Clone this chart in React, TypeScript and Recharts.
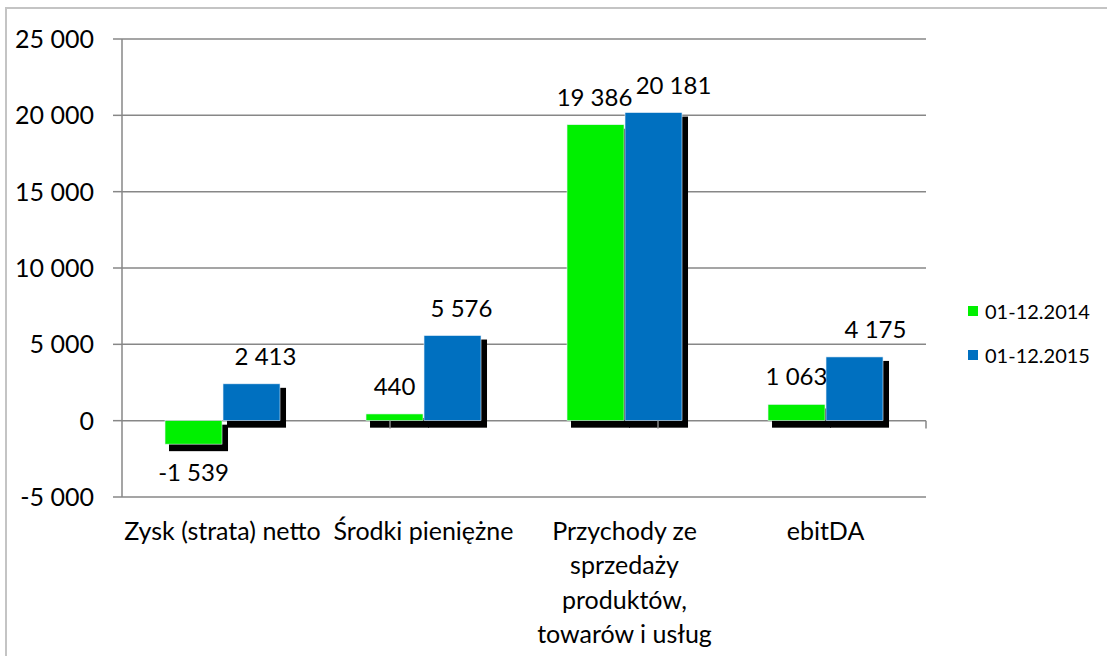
import React from "react";
import {
  BarChart,
  Bar,
  XAxis,
  YAxis,
  CartesianGrid,
  Legend,
  LabelList,
  ReferenceLine,
} from "recharts";

const categories = [
  "Zysk (strata) netto",
  "Środki pieniężne",
  "Przychody ze sprzedaży produktów, towarów i usług",
  "ebitDA",
];
const categoryLines = [
  ["Zysk (strata) netto"],
  ["Środki pieniężne"],
  ["Przychody ze", "sprzedaży", "produktów,", "towarów i usług"],
  ["ebitDA"],
];
const series2014 = [-1539, 440, 19386, 1063];
const series2015 = [2413, 5576, 20181, 4175];
const seriesNames = ["01-12.2014", "01-12.2015"];
const yTicks = [-5000, 0, 5000, 10000, 15000, 20000, 25000];
const categoryBoundaries = [1, 2, 3, 4];

// style-only tweaks for label placement (Excel moved the 2015 labels right)
const labelDx2015 = [14, 9, 20, 21];
const labelDx2014 = [0, 0, -1, 0];

const data = categories.map((c, i) => ({
  name: c,
  v2014: series2014[i],
  v2015: series2015[i],
}));

const FONT = "Lato, 'Open Sans', sans-serif";
const FS = 25;
const LFS = 24;
const GREEN = "#00f000";
const BLUE = "#0070c0";
const GRID = "#878787";

const fmt = (v: number) => {
  const s = Math.abs(Math.round(v)).toString().replace(/\B(?=(\d{3})+(?!\d))/g, " ");
  return (v < 0 ? "-" : "") + s;
};

const ShadowBar = (props: any) => {
  const { x, y, width, height, fill } = props;
  if (width == null || height == null) return null;
  const top = Math.min(y, y + height);
  const h = Math.abs(height);
  return (
    <g>
      <rect x={x + 4} y={top + 4} width={width + 2} height={h + 3} fill="#000" />
      <rect x={x} y={top} width={width} height={h} fill={fill} stroke="#e8f0f8" strokeWidth={0.6} />
    </g>
  );
};

const makeLabel = (dxArr: number[]) => (props: any) => {
  const { x, y, width, height, value, index } = props;
  const neg = value < 0;
  const top = Math.min(y, y + height);
  const bottom = Math.max(y, y + height);
  const cx = x + width / 2 + (dxArr[index] || 0);
  const ty = neg ? bottom + 37 : top - 19;
  return (
    <text x={cx} y={ty} textAnchor="middle" fontFamily={FONT} fontSize={LFS} fill="#000">
      {fmt(value)}
    </text>
  );
};

const CatTick = (props: any) => {
  const { x, y, payload } = props;
  const idx = categories.indexOf(payload.value);
  const lines = categoryLines[idx] || [payload.value];
  return (
    <g>
      {lines.map((l, i) => (
        <text
          key={i}
          x={x}
          y={y + 43 + i * 34.3}
          textAnchor="middle"
          fontFamily={FONT}
          fontSize={FS}
          fill="#000"
        >
          {l}
        </text>
      ))}
    </g>
  );
};

const LegendContent = () => (
  <div style={{ fontFamily: FONT, fontSize: 20, color: "#000" }}>
    {seriesNames.map((n, i) => (
      <div key={n} style={{ display: "flex", alignItems: "center", height: 22, marginBottom: 22 }}>
        <span
          style={{
            display: "inline-block",
            width: 10,
            height: 10,
            background: i === 0 ? GREEN : BLUE,
            marginRight: 7,
          }}
        />
        <span>{n}</span>
      </div>
    ))}
  </div>
);

export default function App() {
  return (
    <div
      style={{
        position: "absolute",
        left: 5,
        top: 7,
        width: 1110,
        height: 660,
        border: "2px solid #c4c4c4",
        background: "#fff",
      }}
    >
      <BarChart
        width={1098}
        height={647}
        data={data}
        margin={{ top: 30, right: 179, left: 0, bottom: 0 }}
        barCategoryGap="21.4%"
        barGap={1}
      >
        <CartesianGrid vertical={false} stroke={GRID} strokeWidth={1.5} />
        <XAxis
          xAxisId="cat"
          dataKey="name"
          axisLine={false}
          tickLine={false}
          tickSize={0}
          tickMargin={0}
          height={159}
          interval={0}
          tick={<CatTick />}
        />
        <XAxis xAxisId="num" type="number" domain={[0, 4]} hide />
        <YAxis
          width={115}
          domain={[-5000, 25000]}
          ticks={yTicks}
          interval={0}
          tickFormatter={fmt}
          axisLine={{ stroke: GRID, strokeWidth: 1.5 }}
          tickLine={{ stroke: GRID, strokeWidth: 1.5 }}
          tickSize={9}
          tickMargin={19}
          tick={{ fontFamily: FONT, fontSize: FS, fill: "#000" }}
        />
        {categoryBoundaries.map((b) => (
          <ReferenceLine
            key={b}
            xAxisId="num"
            segment={[
              { x: b, y: 0 },
              { x: b, y: -520 },
            ]}
            stroke={GRID}
            strokeWidth={1.5}
          />
        ))}
        <Legend
          layout="vertical"
          align="center"
          verticalAlign="middle"
          content={<LegendContent />}
          wrapperStyle={{ left: 961, top: 291, width: 140 }}
        />
        <Bar
          xAxisId="cat"
          dataKey="v2014"
          name={seriesNames[0]}
          fill={GREEN}
          isAnimationActive={false}
          shape={<ShadowBar />}
        >
          <LabelList dataKey="v2014" content={makeLabel(labelDx2014)} />
        </Bar>
        <Bar
          xAxisId="cat"
          dataKey="v2015"
          name={seriesNames[1]}
          fill={BLUE}
          isAnimationActive={false}
          shape={<ShadowBar />}
        >
          <LabelList dataKey="v2015" content={makeLabel(labelDx2015)} />
        </Bar>
      </BarChart>
    </div>
  );
}
